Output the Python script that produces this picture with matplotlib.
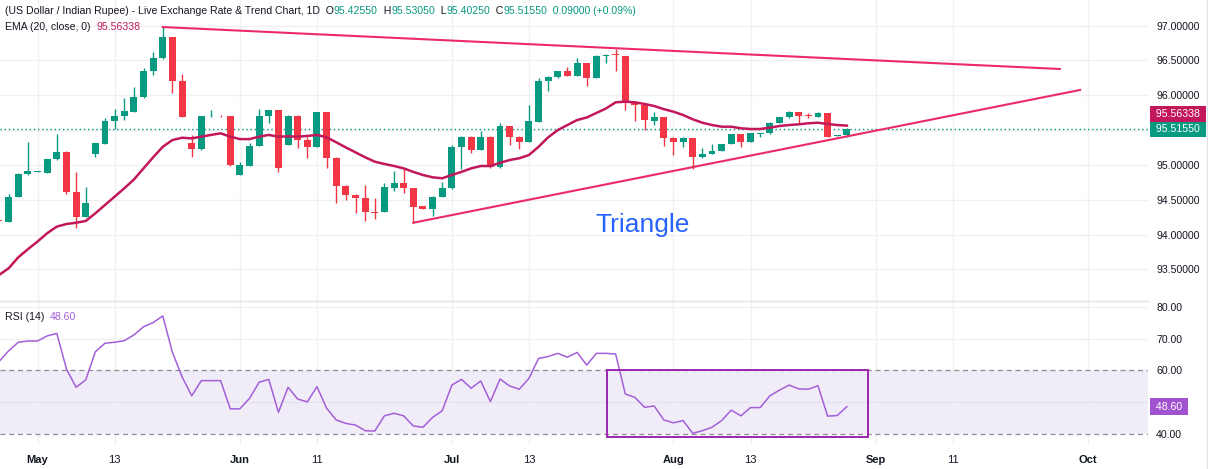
import numpy as np
import pandas as pd
import matplotlib
matplotlib.use("Agg")
import matplotlib.pyplot as plt
from matplotlib.offsetbox import TextArea, HPacker, AnnotationBbox
from matplotlib.lines import Line2D

plt.rcParams['font.family'] = ['Liberation Sans', 'DejaVu Sans']

# ---------------- data ----------------
start_date = '2026-04-27'
opens = [94.21, 94.185, 94.544, 94.865, 94.905, 94.888, 95.08, 95.19, 94.616, 94.257,
         95.156, 95.30, 95.634, 95.706, 95.765, 95.97, 96.347, 96.529, 96.83, 96.204,
         95.31, 95.224, 95.695, 95.705, 95.70, 94.855, 94.99, 95.27, 95.70, 95.787,
         95.286, 95.706, 95.357, 95.261, 95.755, 95.104, 94.70, 94.568, 94.52, 94.33,
         94.33, 94.673, 94.74, 94.665, 94.41, 94.363, 94.544, 94.673, 95.25, 95.405,
         95.214, 95.405, 94.966, 95.563, 95.396, 95.33, 95.62, 96.204, 96.257, 96.347,
         96.28, 96.458, 96.242, 96.567, 96.58, 96.562, 95.907, 95.86, 95.634, 95.683,
         95.39, 95.333, 95.38, 95.109, 95.156, 95.204, 95.30, 95.443, 95.333, 95.45,
         95.453, 95.605, 95.683, 95.763, 95.705, 95.69, 95.749, 95.418, 95.4255]
highs = [94.22, 94.58, 94.88, 95.324, 94.915, 95.09, 95.443, 95.195, 94.90, 94.688,
         95.32, 95.68, 95.797, 95.955, 96.122, 96.386, 96.615, 96.983, 96.835, 96.304,
         95.43, 95.705, 95.787, 95.71, 95.705, 95.04, 95.31, 95.797, 95.79, 95.79,
         95.72, 95.71, 95.40, 95.76, 95.76, 95.11, 94.71, 94.58, 94.71, 94.52,
         94.745, 94.917, 94.95, 94.67, 94.415, 94.56, 94.76, 95.286, 95.41, 95.41,
         95.49, 95.41, 95.605, 95.565, 95.41, 95.86, 96.24, 96.28, 96.35, 96.41,
         96.53, 96.46, 96.58, 96.585, 96.663, 96.565, 95.91, 95.865, 95.763, 95.69,
         95.395, 95.395, 95.385, 95.238, 95.30, 95.305, 95.45, 95.445, 95.46, 95.46,
         95.61, 95.69, 95.77, 95.765, 95.749, 95.755, 95.75, 95.43, 95.5305]
lows = [94.18, 94.18, 94.54, 94.86, 94.90, 94.885, 95.075, 94.58, 94.099, 94.25,
        95.109, 95.30, 95.51, 95.645, 95.76, 95.965, 96.29, 96.525, 96.036, 95.685,
        95.118, 95.22, 95.69, 95.69, 94.98, 94.85, 94.985, 95.265, 95.605, 94.90,
        95.28, 95.238, 95.095, 95.255, 94.96, 94.458, 94.497, 94.306, 94.20, 94.22,
        94.325, 94.63, 94.60, 94.17, 94.36, 94.267, 94.54, 94.65, 94.937, 95.175,
        95.21, 94.96, 94.96, 95.286, 95.224, 95.325, 95.615, 96.06, 96.25, 96.275,
        96.275, 96.132, 96.24, 96.458, 96.351, 95.787, 95.634, 95.50, 95.572, 95.276,
        95.142, 95.253, 94.937, 95.105, 95.15, 95.20, 95.295, 95.261, 95.33, 95.396,
        95.45, 95.60, 95.68, 95.587, 95.669, 95.685, 95.40, 95.41, 95.4025]
closes = [94.19, 94.544, 94.865, 94.91, 94.91, 95.08, 95.19, 94.616, 94.257, 94.449,
          95.31, 95.634, 95.706, 95.773, 95.97, 96.347, 96.529, 96.83, 96.204, 95.69,
          95.224, 95.70, 95.705, 95.695, 94.999, 95.0, 95.27, 95.706, 95.787, 94.951,
          95.706, 95.357, 95.261, 95.755, 95.104, 94.70, 94.568, 94.52, 94.33, 94.314,
          94.678, 94.74, 94.665, 94.40, 94.363, 94.544, 94.673, 95.25, 95.405, 95.214,
          95.405, 94.966, 95.563, 95.396, 95.33, 95.63, 96.204, 96.257, 96.347, 96.28,
          96.458, 96.242, 96.567, 96.58, 96.575, 95.907, 95.86, 95.644, 95.683, 95.39,
          95.333, 95.39, 95.109, 95.156, 95.204, 95.30, 95.443, 95.333, 95.453, 95.455,
          95.605, 95.683, 95.763, 95.70, 95.70, 95.749, 95.405, 95.4255, 95.5155]
ema20 = [93.42, 93.516, 93.674, 93.79, 93.90, 94.02, 94.114, 94.152, 94.17, 94.195,
         94.305, 94.425, 94.544, 94.664, 94.79, 94.95, 95.109, 95.26, 95.357, 95.39,
         95.38, 95.405, 95.43, 95.453, 95.405, 95.37, 95.37, 95.405, 95.43, 95.405,
         95.41, 95.405, 95.415, 95.43, 95.396, 95.324, 95.25, 95.18, 95.109, 95.046,
         95.013, 94.984, 94.95, 94.90, 94.855, 94.822, 94.808, 94.855, 94.90, 94.95,
         94.984, 94.984, 95.03, 95.07, 95.095, 95.142, 95.26, 95.396, 95.50, 95.572,
         95.644, 95.68, 95.745, 95.81, 95.898, 95.907, 95.898, 95.874, 95.845, 95.80,
         95.763, 95.716, 95.654, 95.605, 95.572, 95.548, 95.548, 95.525, 95.515, 95.515,
         95.534, 95.558, 95.572, 95.582, 95.597, 95.605, 95.587, 95.572, 95.56338]
rsi14 = [62.8, 66.2, 68.9, 69.3, 69.3, 70.9, 71.7, 60.5, 54.7, 57.0,
         65.9, 68.6, 68.9, 69.4, 71.2, 73.8, 75.1, 77.2, 65.7, 58.0,
         52.0, 56.8, 56.8, 56.8, 47.9, 47.9, 51.2, 56.3, 57.2, 46.8,
         54.7, 51.0, 50.1, 54.9, 48.1, 44.4, 43.3, 42.8, 41.0, 40.9,
         45.7, 46.5, 45.7, 42.5, 42.1, 45.2, 47.3, 55.4, 57.2, 54.4,
         56.7, 50.2, 57.3, 55.1, 54.1, 57.5, 63.8, 64.4, 65.4, 64.2,
         65.7, 61.7, 65.4, 65.4, 65.2, 52.6, 51.5, 48.4, 48.8, 44.4,
         43.5, 44.2, 40.2, 41.0, 42.1, 44.2, 47.5, 45.7, 48.3, 48.3,
         52.0, 53.8, 55.4, 54.2, 54.1, 55.2, 45.6, 45.8, 48.6]

tick_dates = ['2026-05-01', '2026-05-13', '2026-06-01', '2026-06-11', '2026-07-01',
              '2026-07-13', '2026-08-03', '2026-08-13', '2026-09-01', '2026-09-11',
              '2026-10-01']
tick_labels = ['May', '13', 'Jun', '11', 'Jul', '13', 'Aug', '13', 'Sep', '11', 'Oct']
price_ticks = [93.5, 94.0, 94.5, 95.0, 95.5, 96.0, 96.5, 97.0]
price_hidden = [95.5]          # covered by the last-value labels
rsi_ticks = [40, 50, 60, 70, 80]
rsi_hidden = [50]              # covered by the RSI value label

# drawings (bar index, price)
upper_line_x = [17, 110.1]
upper_line_y = [96.978, 96.376]
lower_line_x = [43, 112.2]
lower_line_y = [94.17, 96.075]
triangle_label_x, triangle_label_y = 66.8, 94.14
rsi_box_x = [63.1, 90.2]
rsi_box_y = [38.9, 60.1]

# ---------------- style ----------------
GREEN = '#089981'
RED = '#f23645'
EMA_C = '#c2185b'
TREND_C = '#ec2a67'
RSI_C = '#a35fd8'
RSI_LBL = '#a052cf'
TXT = '#131722'
GRID = '#f0f0f3'
FS = 7.6

W, H = 1208, 469
fig = plt.figure(figsize=(W / 100, H / 100), dpi=100)
right_px = 1148
ax = fig.add_axes([0, 168 / H, right_px / W, 301 / H])
ax2 = fig.add_axes([0, 24 / H, right_px / W, 143 / H])

n = len(closes)
x = np.arange(n)
o = np.array(opens); hi = np.array(highs); lo = np.array(lows); c = np.array(closes)
cols = [GREEN if cc >= oo else RED for oo, cc in zip(o, c)]

all_days = pd.bdate_range(start_date, '2026-10-30')
tick_pos = all_days.get_indexer(pd.to_datetime(tick_dates))

xlim = (0.104, 119.25)
for a in (ax, ax2):
    a.set_xlim(*xlim)
    for s in a.spines.values():
        s.set_visible(False)
    a.set_xticks(tick_pos)
    a.grid(True, axis='x', color=GRID, lw=1)
    a.set_axisbelow(True)
    a.yaxis.tick_right()

# main panel
ax.set_ylim(93.047, 97.366)
ax.set_yticks(price_ticks)
ax.set_yticklabels(['' if v in price_hidden else f'{v:.5f}' for v in price_ticks])
ax.grid(True, axis='y', color=GRID, lw=1)
ax.tick_params(axis='y', length=0, pad=5.8, labelsize=FS, labelcolor=TXT)
ax.tick_params(axis='x', length=0, labelbottom=False)

body_bottom = np.minimum(o, c)
body_h = np.maximum(np.abs(c - o), 0.012)
ax.vlines(x, lo, hi, colors=cols, lw=1, zorder=2)
ax.bar(x, body_h, bottom=body_bottom, width=0.72, color=cols, lw=0, zorder=3)

ax.axhline(closes[-1], color=GREEN, ls=(0, (1, 2)), lw=1, zorder=2)
ax.plot(x, ema20, color=EMA_C, lw=1.8, zorder=4)
ax.plot(upper_line_x, upper_line_y, color=TREND_C, lw=1.5, zorder=5)
ax.plot(lower_line_x, lower_line_y, color=TREND_C, lw=1.5, zorder=5)
ax.text(triangle_label_x, triangle_label_y, 'Triangle', color='#2962ff', fontsize=19,
        ha='center', va='center', zorder=6)

# price labels on the scale
ax.annotate(f' {closes[-1]:.5f} ', xy=(1, closes[-1]), xycoords=ax.get_yaxis_transform(),
            xytext=(5, 0), textcoords='offset pixels', ha='left', va='center',
            fontsize=FS, color='white', annotation_clip=False, zorder=10,
            bbox=dict(boxstyle='square,pad=0.3', fc=GREEN, ec='none'))
ax.annotate(f' {ema20[-1]:.5f} ', xy=(1, ema20[-1]), xycoords=ax.get_yaxis_transform(),
            xytext=(5, 11.6), textcoords='offset pixels', ha='left', va='center',
            fontsize=FS, color='white', annotation_clip=False, zorder=10,
            bbox=dict(boxstyle='square,pad=0.3', fc=EMA_C, ec='none'))

# RSI panel
ax2.set_ylim(36.5, 81.6)
ax2.set_yticks(rsi_ticks)
ax2.set_yticklabels(['' if v in rsi_hidden else f'{v:.2f}' for v in rsi_ticks])
for v in (50, 70, 80):
    ax2.axhline(v, color=GRID, lw=1, zorder=0)
ax2.axhspan(40, 60, color='#7e57c2', alpha=0.1, lw=0, zorder=0)
for v in (40, 60):
    ax2.axhline(v, color='#8a8d96', lw=0.9, ls=(0, (4, 3)), zorder=1)
ax2.plot(x, rsi14, color=RSI_C, lw=1.1, zorder=3)
ax2.add_patch(plt.Rectangle((rsi_box_x[0], rsi_box_y[0]), rsi_box_x[1] - rsi_box_x[0],
                            rsi_box_y[1] - rsi_box_y[0], fill=False, ec='#9c27b0', lw=1.4,
                            zorder=4))
ax2.tick_params(axis='y', length=0, pad=5.8, labelsize=FS, labelcolor=TXT)
ax2.tick_params(axis='x', length=0, pad=7, labelsize=FS + 0.4, labelcolor=TXT)
ax2.set_xticklabels(tick_labels)
for lbl, t in zip(ax2.get_xticklabels(), tick_labels):
    if not t.isdigit():
        lbl.set_fontweight('bold')
ax2.annotate(f' {rsi14[-1]:.2f} ', xy=(1, rsi14[-1]), xycoords=ax2.get_yaxis_transform(),
             xytext=(5, 0), textcoords='offset pixels', ha='left', va='center',
             fontsize=FS, color='white', annotation_clip=False, zorder=10,
             bbox=dict(boxstyle='square,pad=0.3', fc=RSI_LBL, ec='none'))

# separators
fig.add_artist(Line2D([0, right_px / W], [168 / H, 168 / H], color='#e0e3eb', lw=1))
fig.add_artist(Line2D([1206.5 / W, 1206.5 / W], [0, 1], color='#e0e3eb', lw=1))


def legend_row(pieces, x_px, y_px):
    boxes = [TextArea(s, textprops=dict(color=col, fontsize=FS)) for s, col in pieces]
    hp = HPacker(children=boxes, align='baseline', pad=0, sep=0)
    ab = AnnotationBbox(hp, (x_px, y_px), xycoords='figure pixels', box_alignment=(0, 0.5),
                        frameon=False, pad=0)
    fig.add_artist(ab)


chg = closes[-1] - closes[-2]
chg_pct = chg / closes[-2] * 100
legend_row([('(US Dollar / Indian Rupee) - Live Exchange Rate & Trend Chart, 1D  O', TXT),
            (f'{opens[-1]:.5f}', GREEN), ('  H', TXT), (f'{highs[-1]:.5f}', GREEN),
            ('  L', TXT), (f'{lows[-1]:.5f}', GREEN), ('  C', TXT),
            (f'{closes[-1]:.5f}', GREEN),
            (f'  {chg:.5f} (+{chg_pct:.2f}%)', GREEN)],
           5, H - 11)
legend_row([('EMA (20, close, 0)  ', TXT), (f'{ema20[-1]:.5f}', EMA_C)], 5, H - 27)
legend_row([('RSI (14)  ', TXT), (f'{rsi14[-1]:.2f}', RSI_C)], 5, H - 317)

fig.savefig('out.png', dpi=100, facecolor='white')
